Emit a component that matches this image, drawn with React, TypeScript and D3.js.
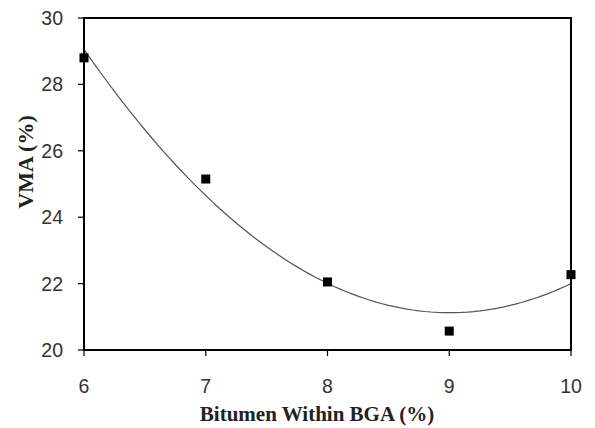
import React from 'react';
import * as d3 from 'd3';

const width = 595;
const height = 428;
const margin = { top: 18, right: 24, bottom: 78, left: 84 };

const bitumen = [6, 7, 8, 9, 10];
const vma = [28.8, 25.15, 22.05, 20.57, 22.27];
const xTicks = [6, 7, 8, 9, 10];
const yTicks = [20, 22, 24, 26, 28, 30];

// second order polynomial trend line fitted to the points (least squares)
function fitQuadratic(xs: number[], ys: number[]) {
  const n = xs.length;
  const s = [0, 0, 0, 0, 0];
  const t = [0, 0, 0];
  for (let i = 0; i < n; i++) {
    for (let k = 0; k < 5; k++) s[k] += Math.pow(xs[i], k);
    for (let k = 0; k < 3; k++) t[k] += ys[i] * Math.pow(xs[i], k);
  }
  const m = [
    [s[0], s[1], s[2], t[0]],
    [s[1], s[2], s[3], t[1]],
    [s[2], s[3], s[4], t[2]],
  ];
  for (let c = 0; c < 3; c++) {
    for (let r = c + 1; r < 3; r++) {
      const f = m[r][c] / m[c][c];
      for (let k = c; k < 4; k++) m[r][k] -= f * m[c][k];
    }
  }
  const coef = [0, 0, 0];
  for (let r = 2; r >= 0; r--) {
    let v = m[r][3];
    for (let k = r + 1; k < 3; k++) v -= m[r][k] * coef[k];
    coef[r] = v / m[r][r];
  }
  return (x: number) => coef[0] + coef[1] * x + coef[2] * x * x;
}

const sans = 'Liberation Sans, Arial, sans-serif';
const serif = 'Liberation Serif, Times New Roman, serif';

const App = () => {
  const x = d3.scaleLinear().domain([6, 10]).range([margin.left, width - margin.right]);
  const y = d3.scaleLinear().domain([20, 30]).range([height - margin.bottom, margin.top]);
  const trend = fitQuadratic(bitumen, vma);
  const curve = d3.range(6, 10.001, 0.05).map(v => [v, trend(v)] as [number, number]);
  const line = d3
    .line<[number, number]>()
    .x(d => x(d[0]))
    .y(d => y(d[1]));

  const x0 = margin.left;
  const x1 = width - margin.right;
  const y0 = height - margin.bottom;
  const y1 = margin.top;

  return (
    <svg width={width} height={height} style={{ position: 'absolute', left: 0, top: 0, background: '#fff' }}>
      <path d={line(curve) || ''} fill="none" stroke="#555" strokeWidth={1.2} />
      {bitumen.map((b, i) => (
        <rect key={i} x={x(b) - 4.5} y={y(vma[i]) - 4.5} width={9} height={9} fill="#000" />
      ))}
      <rect x={x0} y={y1} width={x1 - x0} height={y0 - y1} fill="none" stroke="#000" strokeWidth={2} />
      {yTicks.map(t => (
        <g key={t}>
          <line x1={x0 - 6} x2={x0} y1={y(t)} y2={y(t)} stroke="#000" strokeWidth={1.2} />
          <text x={x0 - 21} y={y(t)} dy="0.36em" textAnchor="end" fontFamily={sans} fontSize={19.5} fill="#333">
            {t}
          </text>
        </g>
      ))}
      {xTicks.map(t => (
        <g key={t}>
          <line x1={x(t)} x2={x(t)} y1={y0} y2={y0 + 6} stroke="#000" strokeWidth={1.2} />
          <text x={x(t)} y={y0 + 43} textAnchor="middle" fontFamily={sans} fontSize={19.5} fill="#333">
            {t}
          </text>
        </g>
      ))}
      <text x={317} y={421} textAnchor="middle" fontFamily={serif} fontWeight="bold" fontSize={21} fill="#222">
        Bitumen Within BGA (%)
      </text>
      <text transform="translate(33, 162) rotate(-90)" textAnchor="middle" fontFamily={serif} fontWeight="bold" fontSize={22} fill="#222">
        VMA (%)
      </text>
    </svg>
  );
};

export default App;
